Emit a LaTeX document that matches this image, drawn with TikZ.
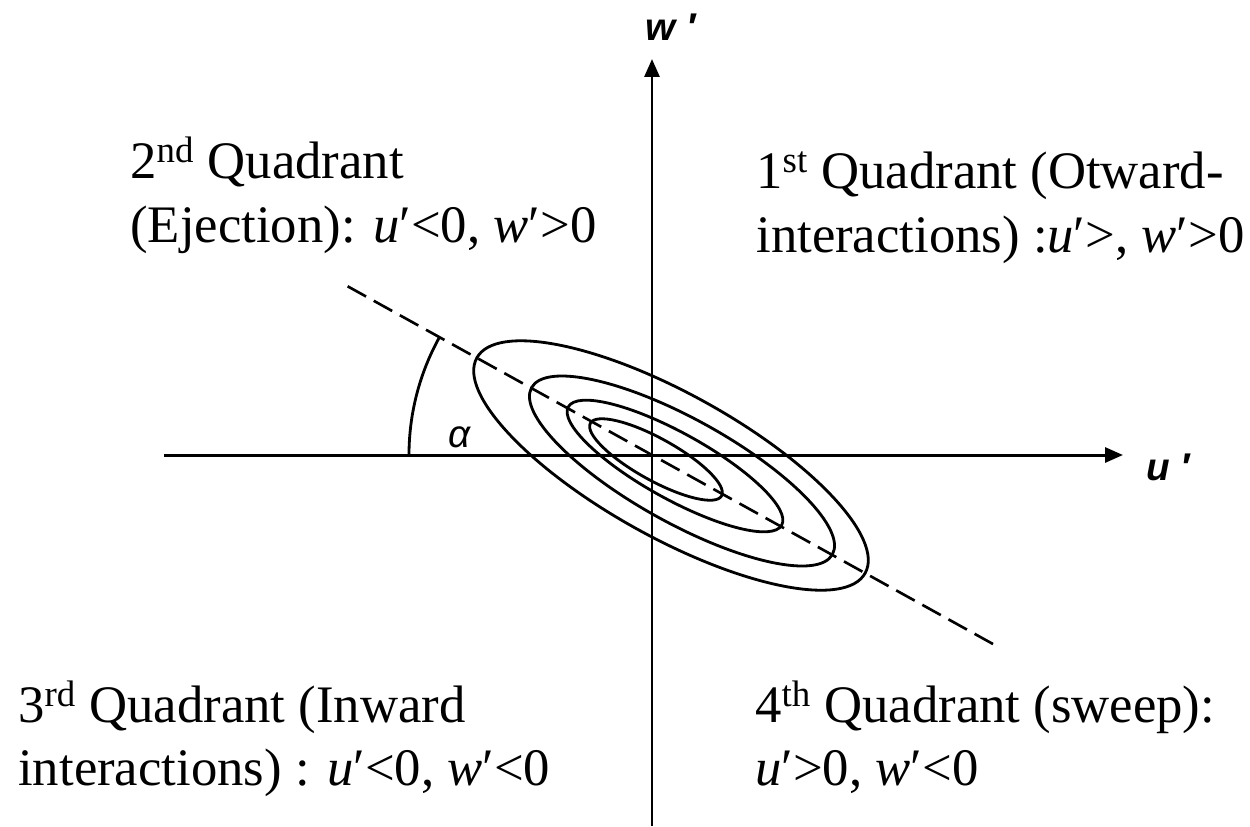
\documentclass[tikz,border=0pt]{standalone}
\usepackage{fontspec}
\setmainfont{Liberation Serif}
\newfontfamily\labelfont{Liberation Sans}
\usetikzlibrary{arrows.meta}

\begin{document}
\begin{tikzpicture}[x=0.02cm,y=0.02cm,
    axis/.style={line width=1.7pt,-{Triangle[length=0.36cm,width=0.3cm]}},
    contour/.style={line width=1.6pt},
    quad/.style={anchor=base west,inner sep=0pt,font=\fontsize{30}{36}\selectfont},
    axlabel/.style={anchor=base,inner sep=0pt,
        font=\labelfont\fontsize{22}{26}\selectfont\bfseries\itshape}]
    \useasboundingbox (-652,-371) rectangle (598,455);

    \coordinate (O) at (0,0);
    \coordinate (xl) at (-488,0);
    \coordinate (xr) at (471,0);
    \coordinate (yb) at (0,-371);
    \coordinate (yt) at (0,396);
    \coordinate (dl) at (151:348);
    \coordinate (dr) at (-29:395);
    \coordinate (al) at (-243,0);

    \draw[axis] (xl) -- (xr);
    \draw[axis] (yb) -- (yt);
    \node[axlabel] (ulab) at (516,-25) {u ′};
    \node[axlabel] (wlab) at (19,415) {w ′};

    \draw[line width=1.5pt,dash pattern=on 12pt off 5pt] (dl) -- (dr);
    \draw[contour] (al) arc[start angle=180,end angle=151,radius=243];
    \node[anchor=base,inner sep=0pt,font=\labelfont\fontsize{22}{26}\selectfont\itshape]
        (alab) at (-192,8) {α};

    \draw[contour,rotate around={-29:(19,-10.5)}]
        (19,-10.5) ellipse[x radius=222,y radius=72];
    \draw[contour,rotate around={-29:(30,-16)}]
        (30,-16) ellipse[x radius=172,y radius=52];
    \draw[contour,rotate around={-29:(23,-11)}]
        (23,-11) ellipse[x radius=122,y radius=33];
    \draw[contour,rotate around={-29:(4,-4.5)}]
        (4,-4.5) ellipse[x radius=75,y radius=21];

    \node[quad] (q2a) at (-522,277) {2\textsuperscript{nd} Quadrant};
    \node[quad] (q2b) at (-522,213) {(Ejection): \textit{u}′<0, \textit{w}′>0};
    \node[quad] (q1a) at (104,267) {1\textsuperscript{st} Quadrant (Otward-};
    \node[quad] (q1b) at (104,203) {interactions) :\textit{u}′>, \textit{w}′>0};
    \node[quad] (q3a) at (-634,-267) {3\textsuperscript{rd} Quadrant (Inward};
    \node[quad] (q3b) at (-634,-330) {interactions) : \textit{u}′<0, \textit{w}′<0};
    \node[quad] (q4a) at (103,-267) {4\textsuperscript{th} Quadrant (sweep):};
    \node[quad] (q4b) at (103,-330) {\textit{u}′>0, \textit{w}′<0};
\end{tikzpicture}
\end{document}
